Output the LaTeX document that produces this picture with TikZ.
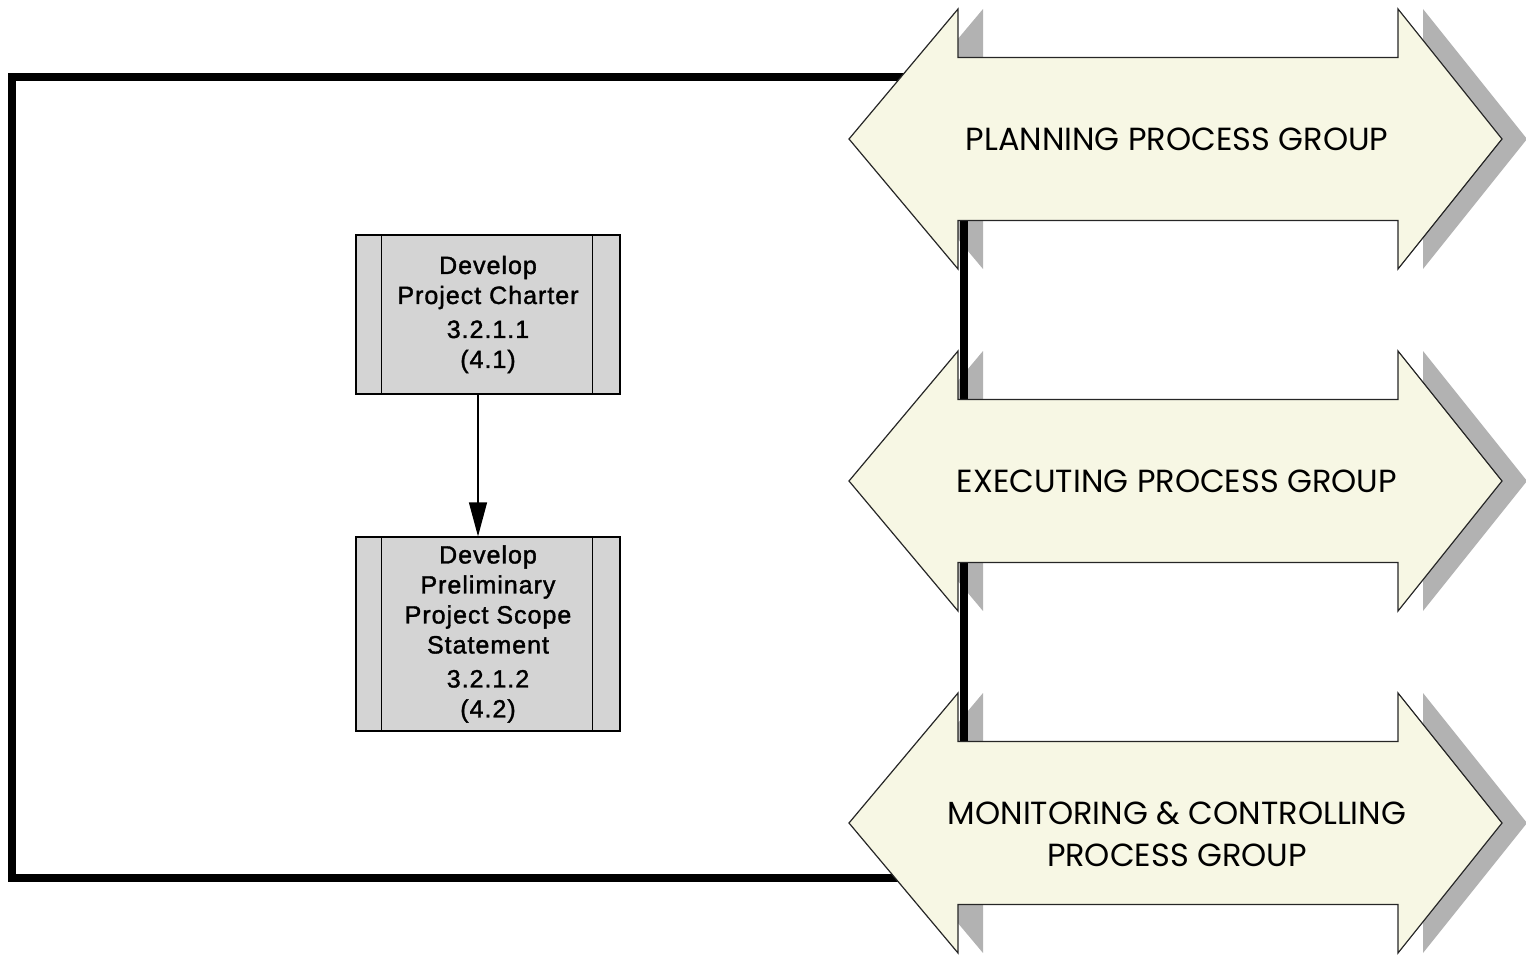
\documentclass[tikz,border=0pt]{standalone}
\usepackage{fontspec}
\setmainfont{Liberation Sans}
\newfontfamily\comicfont{Poppins}
\usetikzlibrary{arrows.meta}
\definecolor{arrowfill}{HTML}{F7F7E4}
\definecolor{shadowgray}{HTML}{B2B2B2}
\definecolor{boxgray}{HTML}{D4D4D4}
\newcommand\dblarrowshape{(849,0) -- (958,-130) -- (958,-81.5) -- (1398,-81.5) -- (1398,-130) -- (1502,0) -- (1398,130) -- (1398,81.5) -- (958,81.5) -- (958,130) -- cycle}
\begin{document}
\begin{tikzpicture}[x=1pt,y=-1pt,
  shadowshape/.style={fill=shadowgray},
  arrowshape/.style={fill=arrowfill,draw=black!85,line width=1.2pt},
  frame/.style={draw=black,line width=8pt},
  grouplabel/.style={font=\comicfont\fontsize{32}{42}\selectfont,align=center,inner sep=0pt},
  procbox/.style={draw=black,line width=1.2pt,fill=boxgray,minimum width=264pt,align=center,inner sep=0pt,
    font=\addfontfeatures{LetterSpace=4,FakeBold=1.5}\fontsize{25}{30}\selectfont},
  divider/.style={draw=black,line width=1.2pt},
  flow/.style={draw=black,line width=1.2pt,-{Triangle[length=34pt,width=18pt]}}]
\useasboundingbox (0,0) rectangle (1526,955);
% shadows
\foreach \cy in {139,481,823}{
  \fill[shadowshape,shift={(25,\cy)}] \dblarrowshape;
}
% frame
\draw[frame] (12,77.5) rectangle (964,878);
% arrows
\foreach \cy in {139,481,823}{
  \path[arrowshape,shift={(0,\cy)}] \dblarrowshape;
}
\node[grouplabel] (plan) at (1177,139) {PLANNING PROCESS GROUP};
\node[grouplabel] (exec) at (1177,481) {EXECUTING PROCESS GROUP};
\node[grouplabel] (monit) at (1177,834) {MONITORING \& CONTROLLING\\PROCESS GROUP};
% process boxes
\node[procbox,minimum height=159pt] (charter) at (488,314.5)
  {Develop\\Project Charter\\[4pt]3.2.1.1\\(4.1)};
\node[procbox,minimum height=194pt] (prelim) at (488,634)
  {Develop\\Preliminary\\Project Scope\\Statement\\[4pt]3.2.1.2\\(4.2)};
\foreach \b in {charter,prelim}{
  \draw[divider] ([xshift=26pt]\b.north west) -- ([xshift=26pt]\b.south west);
  \draw[divider] ([xshift=-28pt]\b.north east) -- ([xshift=-28pt]\b.south east);
}
\draw[flow] ([xshift=-10pt]charter.south) -- ([xshift=-10pt]prelim.north);
\end{tikzpicture}
\end{document}
